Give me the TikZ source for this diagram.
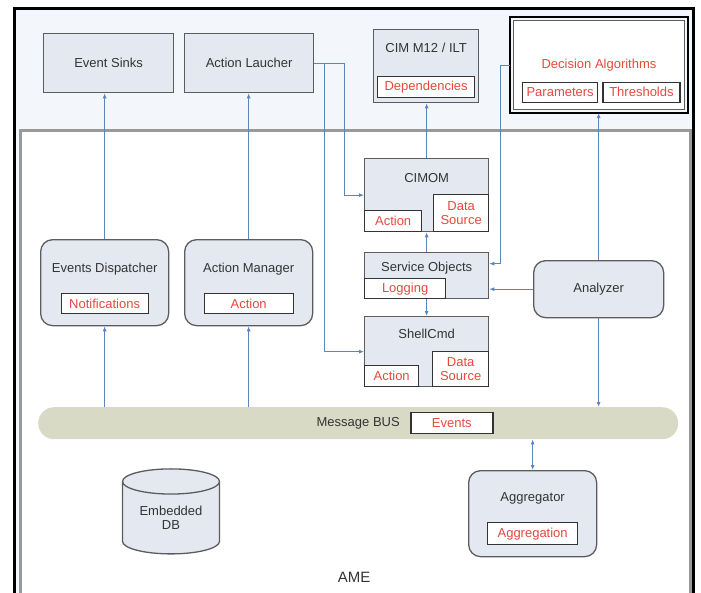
\documentclass[tikz,border=0pt]{standalone}
\usepackage{fontspec}
\setmainfont{Liberation Sans}
\usepackage{xcolor}
\usetikzlibrary{positioning, arrows.meta, shapes.geometric}

\definecolor{boxfill}{HTML}{E4E9F1}
\definecolor{boxline}{HTML}{5C5C5C}
\definecolor{linkblue}{HTML}{5B86BA}
\definecolor{labelred}{HTML}{E8483E}
\definecolor{busfill}{HTML}{D9DAC5}
\definecolor{pagefill}{HTML}{F3F6FA}
\definecolor{txt}{HTML}{333333}

\begin{document}
\begin{tikzpicture}[
    x=1pt, y=-1pt,
    every node/.style={font=\fontsize{13}{14}\selectfont, text=txt, inner sep=0pt},
    block/.style={draw=boxline, line width=1.3pt, fill=boxfill, align=center, anchor=north west},
    roundblock/.style={block, rounded corners=12pt},
    part/.style={draw=black!80, line width=1.3pt, fill=white, text=labelred, align=center},
    head/.style={anchor=north, yshift=#1},
    link/.style={draw=linkblue, line width=0.9pt},
    arrow/.style={link, -{Latex[length=5pt,width=4pt]}},
    twoway/.style={link, {Latex[length=5pt,width=4pt]}-{Latex[length=5pt,width=4pt]}}
]
\useasboundingbox (0,0) rectangle (701,592);
\clip (0,0) rectangle (701,592);

% frames
\draw[line width=2.5pt, fill=pagefill] (14.5,8.5) rectangle (693.5,620);
\draw[line width=2.5pt, draw=black!40, fill=white] (20.5,130.5) rectangle (690.5,620);

% top row
\node[block, minimum width=130, minimum height=59] (sinks) at (43,33) {Event Sinks};
\node[block, minimum width=129, minimum height=59] (laucher) at (184,33) {Action Laucher};
\node[block, minimum width=105, minimum height=73,
      label={[head=-13.5pt]north:CIM M12 / ILT}] (cim) at (373,29) {};
\node[part, minimum width=97, minimum height=21, above=5pt of cim.south] (dep) {Dependencies};

\node[draw=boxline, line width=1pt, fill=white, anchor=north west, minimum width=171, minimum height=89,
      label={[head=-38.5pt, text=labelred]north:Decision Algorithms}] (dec) at (513,20) {};
\draw[line width=2pt] ([shift={(-3,-3)}]dec.north west) rectangle ([shift={(3,3)}]dec.south east);
\node[part, minimum width=75, minimum height=20, anchor=south west] (params) at ([shift={(9,-7)}]dec.south west) {Parameters};
\node[part, minimum width=77, minimum height=20, right=4pt of params] (thresh) {Thresholds};

% middle column
\node[block, minimum width=124, minimum height=73,
      label={[head=-15pt]north:CIMOM}] (cimom) at (364,158) {};
\node[part, minimum width=57, minimum height=21, anchor=south west] (cimact) at (cimom.south west) {Action};
\node[part, minimum width=55, minimum height=37, anchor=south east] (cimsrc) at (cimom.south east) {Data\\Source};

\node[block, minimum width=124, minimum height=46,
      label={[head=-9.5pt]north:Service Objects}] (serv) at (364,252) {};
\node[part, minimum width=81, minimum height=20, anchor=south west] (log) at (serv.south west) {Logging};

\node[block, minimum width=124, minimum height=70,
      label={[head=-12.5pt]north:ShellCmd}] (shell) at (364,316) {};
\node[part, minimum width=54, minimum height=21, anchor=south west] (shellact) at (shell.south west) {Action};
\node[part, minimum width=56, minimum height=35, anchor=south east] (shellsrc) at (shell.south east) {Data\\Source};

% managers
\node[roundblock, minimum width=128, minimum height=86,
      label={[head=-23.5pt]north:Events Dispatcher}] (disp) at (40,239) {};
\node[part, minimum width=87, minimum height=20, above=12pt of disp.south] (notif) {Notifications};
\node[roundblock, minimum width=128, minimum height=86,
      label={[head=-23.5pt]north:Action Manager}] (mgr) at (184,239) {};
\node[part, minimum width=89, minimum height=20, above=12pt of mgr.south] (mgract) {Action};

\node[roundblock, minimum width=130, minimum height=57] (ana) at (533,260) {Analyzer};

% bus
\node[draw=none, fill=busfill, rounded corners=16pt, anchor=north west, minimum width=640, minimum height=32] (bus) at (38,407) {Message BUS};
\node[part, minimum width=82, minimum height=21, anchor=west] (events) at ([xshift=52pt]bus.center) {Events};

% bottom
\node[draw=boxline, line width=1.3pt, fill=boxfill, cylinder, shape border rotate=90, aspect=0.4,
      minimum width=97, minimum height=85, align=center] (db) at (171,518) {Embedded\\DB};
\node[roundblock, minimum width=128, minimum height=86,
      label={[head=-22.5pt]north:Aggregator}] (agg) at (468,470) {};
\node[part, minimum width=90, minimum height=22, above=12pt of agg.south] (aggpart) {Aggregation};
\node[font=\fontsize{15}{16}\selectfont] (ame) at (354,577) {AME};

% connectors
\draw[arrow] (disp.north) -- (disp.north |- sinks.south);
\draw[arrow] (mgr.north) -- (mgr.north |- laucher.south);
\draw[arrow] (disp.south |- bus.north) -- (disp.south);
\draw[arrow] (mgr.south |- bus.north) -- (mgr.south);
\draw[arrow] (laucher.east) -- ++(30,0) |- (cimom.west);
\draw[arrow] (laucher.east) -- ++(10,0) |- (shell.west);
\draw[arrow] (cimom.north) -- (cimom.north |- cim.south);
\draw[arrow] (serv.north) -- (cimom.south);
\draw[arrow] (serv.south) -- (shell.north);
\draw[arrow] (dec.west) ++(-3,0) -- ++(-10,0) |- ([yshift=12pt]serv.east);
\draw[arrow] (ana.west) -- (ana.west -| serv.east);
\draw[arrow] (ana.north) -- ([yshift=-3pt]ana.north |- dec.south);
\draw[arrow] (ana.south) -- (ana.south |- bus.north);
\draw[twoway] (agg.north) -- (agg.north |- bus.south);
\end{tikzpicture}
\end{document}
